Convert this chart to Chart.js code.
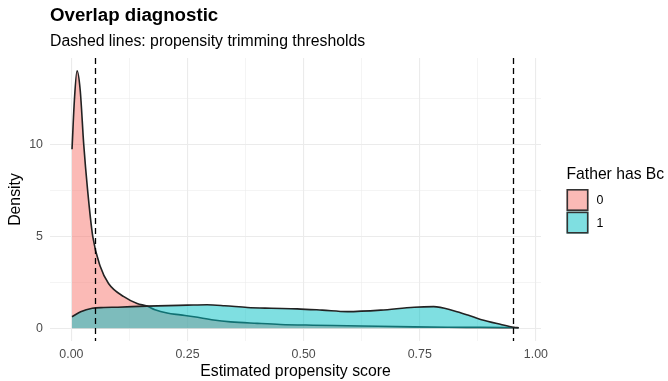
<!DOCTYPE html>
<html>
<head>
<meta charset="utf-8">
<script src="https://cdn.jsdelivr.net/npm/chart.js@4/dist/chart.umd.min.js"></script>
<style>
  html, body { margin: 0; padding: 0; background: #fff; }
  #wrap { width: 668px; height: 381px; position: relative; }
  canvas { display: block; }
</style>
</head>
<body>
<div id="wrap"><canvas id="overlap" width="668" height="381"></canvas></div>
<script>
// density estimates of the propensity score, by group
var groups = ['0', '1'];
var score0 = [0.0014, 0.0065, 0.0122, 0.019, 0.0266, 0.035, 0.046, 0.0625, 0.080, 0.113, 0.1415, 0.163, 0.18, 0.206, 0.235, 0.264, 0.306, 0.343, 0.40, 0.45, 0.52, 0.594, 0.66, 0.737, 0.81, 0.88, 0.93, 0.963];
var density0 = [9.73, 12.4, 14.0, 12.96, 10.0, 7.5, 5.0, 3.34, 2.43, 1.71, 1.34, 1.2, 1.0, 0.82, 0.72, 0.62, 0.44, 0.34, 0.26, 0.2, 0.16, 0.13, 0.1, 0.07, 0.05, 0.04, 0.03, 0.02];
var score1 = [0.0014, 0.02, 0.045, 0.07, 0.1, 0.163, 0.25, 0.292, 0.33, 0.379, 0.43, 0.486, 0.54, 0.594, 0.666, 0.738, 0.78, 0.823, 0.855, 0.881, 0.925, 0.953, 0.963];
var density1 = [0.62, 0.89, 1.08, 1.12, 1.14, 1.2, 1.25, 1.27, 1.22, 1.12, 1.08, 1.05, 0.98, 0.9, 0.98, 1.14, 1.17, 0.95, 0.7, 0.47, 0.2, 0.05, 0.02];

// trimming thresholds
var thresholds = [0.05, 0.95];

// axis ticks (major get labels, minor only grid)
var xMajor = [0, 0.25, 0.5, 0.75, 1];
var xMinor = [0.125, 0.375, 0.625, 0.875];
var yMajor = [0, 5, 10];
var yMinor = [2.5, 7.5, 12.5];

var fills = ['rgba(248,118,109,0.5)', 'rgba(0,191,196,0.5)'];
var lineCol = '#222';
var fontFam = '"Liberation Sans", Arial, Helvetica, sans-serif';

function toPoints(xs, ys) {
    return xs.map(function (x, i) { return { x: x, y: ys[i] }; });
}

function setTicks(major, minor) {
    return function (scale) {
        scale.ticks = major.concat(minor).sort(function (a, b) { return a - b; })
            .map(function (v) { return { value: v, major: major.indexOf(v) >= 0 }; });
    };
}

function gridWidth(ctx) {
    return ctx.tick && ctx.tick.major ? 1.1 : 0.55;
}

// title, subtitle, threshold lines and the legend
var extras = {
    id: 'extras',
    afterDatasetsDraw: function (chart) {
        var c = chart.ctx, a = chart.chartArea, xs = chart.scales.x;
        c.save();
        c.strokeStyle = '#000';
        c.lineWidth = 1.3;
        c.setLineDash([6, 4]);
        thresholds.forEach(function (t) {
            var px = Math.round(xs.getPixelForValue(t)) + 0.5;
            c.beginPath();
            c.moveTo(px, a.top);
            c.lineTo(px, a.bottom);
            c.stroke();
        });
        c.restore();
    },
    afterDraw: function (chart) {
        var c = chart.ctx, a = chart.chartArea;
        c.save();
        c.fillStyle = '#000';
        c.textBaseline = 'alphabetic';
        c.font = 'bold 18.7px ' + fontFam;
        c.fillText('Overlap diagnostic', a.left, 21);
        c.font = '15.8px ' + fontFam;
        c.fillText('Dashed lines: propensity trimming thresholds', a.left, 46);

        // legend
        var lx = 566.5, ly = 189, box = 22;
        c.font = '15.7px ' + fontFam;
        c.fillText('Father has Bc', lx, 178.5);
        c.font = '12.4px ' + fontFam;
        groups.forEach(function (g, i) {
            var top = ly + i * (box + 0.6);
            c.fillStyle = '#fff';
            c.fillRect(lx, top, box, box);
            c.fillStyle = fills[i];
            c.fillRect(lx, top, box, box);
            c.strokeStyle = '#333';
            c.lineWidth = 1.6;
            c.strokeRect(lx + 0.8, top + 0.8, box - 1.6, box - 1.6);
            c.fillStyle = '#000';
            c.textBaseline = 'middle';
            c.fillText(g, lx + box + 8, top + box / 2 + 1);
        });
        c.restore();
    }
};

new Chart(document.getElementById('overlap'), {
    type: 'line',
    data: {
        datasets: [{
            label: groups[0],
            data: toPoints(score0, density0),
            order: 1,
            backgroundColor: fills[0],
            borderColor: lineCol,
            borderWidth: 1.6,
            fill: 'origin',
            pointRadius: 0,
            cubicInterpolationMode: 'monotone'
        }, {
            label: groups[1],
            data: toPoints(score1, density1),
            order: 0,
            backgroundColor: fills[1],
            borderColor: lineCol,
            borderWidth: 1.6,
            fill: 'origin',
            pointRadius: 0,
            cubicInterpolationMode: 'monotone'
        }]
    },
    options: {
        responsive: false,
        animation: false,
        devicePixelRatio: 1,
        layout: { padding: { top: 58, right: 127, left: 0, bottom: 0 } },
        plugins: {
            legend: { display: false },
            tooltip: { enabled: false }
        },
        scales: {
            x: {
                type: 'linear',
                min: -0.046,
                max: 1.011,
                afterBuildTicks: setTicks(xMajor, xMinor),
                afterFit: function (s) { s.height = 40; },
                border: { display: false },
                grid: { color: '#ebebeb', lineWidth: gridWidth, drawTicks: false },
                ticks: {
                    padding: 6,
                    color: '#4d4d4d',
                    font: { family: fontFam, size: 12.4 },
                    maxRotation: 0,
                    autoSkip: false,
                    callback: function (v) { return xMajor.indexOf(v) >= 0 ? v.toFixed(2) : ''; }
                },
                title: {
                    display: true,
                    text: 'Estimated propensity score',
                    color: '#000',
                    font: { family: fontFam, size: 15.8 },
                    padding: { top: 2, bottom: 0 }
                }
            },
            y: {
                type: 'linear',
                min: -0.7,
                max: 14.7,
                afterBuildTicks: setTicks(yMajor, yMinor),
                afterFit: function (s) { s.width = 50; },
                border: { display: false },
                grid: { color: '#ebebeb', lineWidth: gridWidth, drawTicks: false },
                ticks: {
                    padding: 7,
                    color: '#4d4d4d',
                    font: { family: fontFam, size: 12.4 },
                    autoSkip: false,
                    callback: function (v) { return yMajor.indexOf(v) >= 0 ? String(v) : ''; }
                },
                title: {
                    display: true,
                    text: 'Density',
                    color: '#000',
                    font: { family: fontFam, size: 15.8 },
                    padding: { top: 6.5, bottom: 0 }
                }
            }
        }
    },
    plugins: [extras]
});
</script>
</body>
</html>
